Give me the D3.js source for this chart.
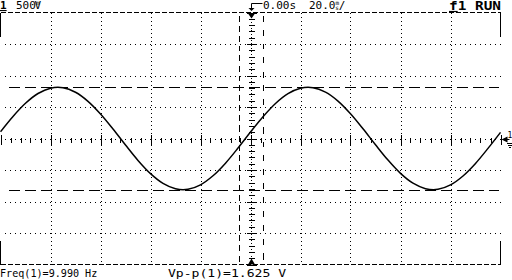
<!DOCTYPE html>
<html><head><meta charset="utf-8">
<script src="https://cdn.jsdelivr.net/npm/d3@7"></script>
<style>
html,body{margin:0;padding:0;background:#fff;}
svg{display:block;}
text{font-family:"DejaVu Sans Mono",monospace;fill:#000;}
</style></head>
<body>
<script>
// ---- data ----
const timeMs = [-100,-95,-90,-85,-80,-75,-70,-65,-60,-55,-50,-45,-40,-35,-30,-25,-20,-15,-10,-5,0,5,10,15,20,25,30,35,40,45,50,55,60,65,70,75,80,85,90,95,100];
const voltsCh1 = [0.107,0.350,0.559,0.714,0.799,0.806,0.734,0.590,0.389,0.150,-0.104,-0.348,-0.558,-0.713,-0.798,-0.806,-0.735,-0.592,-0.391,-0.152,0.102,0.346,0.556,0.712,0.798,0.806,0.736,0.594,0.393,0.155,-0.099,-0.343,-0.554,-0.710,-0.797,-0.807,-0.737,-0.595,-0.396,-0.157,0.097];
const timeGridMs = [-80,-60,-40,-20,20,40,60,80];
const voltGrid = [-1.5,-1,-0.5,0.5,1,1.5];
const voltCursors = [0.8125,-0.8125];
const timeCursors = [-4.8,4.8];
const headerLeft = ["1","500","m","V"];
const headerDelay = "0.00s";
const headerTimebase = ["20.0","m","s","/"];
const headerRight = ["f","1 RUN"];
const footerFreq = "Freq(1)=9.990 Hz";
const footerVpp = "Vp-p(1)=1.625 V";

const W=512,H=280;
const svg=d3.select("body").append("svg").attr("width",W).attr("height",H);
const x=d3.scaleLinear().domain([-100,100]).range([0.5,500.5]);
const y=d3.scaleLinear().domain([-2,2]).range([264.5,12.5]);
const g=svg.append("g").attr("shape-rendering","crispEdges");

// grid dotted
g.selectAll(".vg").data(timeGridMs).join("line")
 .attr("x1",d=>Math.round(x(d))+0.5).attr("x2",d=>Math.round(x(d))+0.5)
 .attr("y1",y(2)).attr("y2",y(-2))
 .attr("stroke","#000").attr("stroke-dasharray","1,3");
g.selectAll(".hg").data(voltGrid).join("line")
 .attr("y1",d=>Math.round(y(d))+0.5).attr("y2",d=>Math.round(y(d))+0.5)
 .attr("x1",x(-100)+4).attr("x2",x(100))
 .attr("stroke","#000").attr("stroke-dasharray","1,4");

// center axes
const cy=Math.round(y(0))+0.5, cx=Math.round(x(0))+0.5;
g.append("line").attr("x1",x(-100)+4).attr("x2",x(100)).attr("y1",cy).attr("y2",cy)
 .attr("stroke","#000").attr("stroke-dasharray","1,4");
g.append("line").attr("y1",y(2)).attr("y2",y(-2)).attr("x1",cx).attr("x2",cx)
 .attr("stroke","#000").attr("stroke-dasharray","1,2");
const tMinor=d3.range(-100,100.01,4);
g.selectAll(".tm").data(tMinor).join("line")
 .attr("x1",d=>Math.round(x(d))+0.5).attr("x2",d=>Math.round(x(d))+0.5)
 .attr("y1",d=>cy-(d%20===0?5:2)).attr("y2",d=>cy+(d%20===0?5:3))
 .attr("stroke","#000");
const vMinor=d3.range(-2,2.001,0.1).map(v=>+v.toFixed(1));
g.selectAll(".vm").data(vMinor).join("line")
 .attr("y1",d=>Math.round(y(d))+0.5).attr("y2",d=>Math.round(y(d))+0.5)
 .attr("x1",d=>cx-(Math.abs(d*2-Math.round(d*2))<1e-6?5:3)).attr("x2",d=>cx+(Math.abs(d*2-Math.round(d*2))<1e-6?5:3))
 .attr("stroke","#000");

// frame: dashed top/bottom, corner brackets on sides
g.append("line").attr("x1",x(-100)).attr("x2",x(100)).attr("y1",y(2)).attr("y2",y(2))
 .attr("stroke","#000").attr("stroke-dasharray","5,2");
g.append("line").attr("x1",x(-100)).attr("x2",x(100)).attr("y1",y(-2)).attr("y2",y(-2))
 .attr("stroke","#000").attr("stroke-dasharray","5,2");
[[-100,2,1],[-100,-2,-1],[100,2,1],[100,-2,-1]].forEach(([t,v,s])=>{
  g.append("line").attr("x1",x(t)).attr("x2",x(t)).attr("y1",y(v)).attr("y2",y(v)+s*24)
   .attr("stroke","#000").attr("stroke-width",1);
});

// cursors
g.selectAll(".hc").data(voltCursors).join("line")
 .attr("y1",d=>Math.round(y(d))+0.5).attr("y2",d=>Math.round(y(d))+0.5)
 .attr("x1",x(-100)+8).attr("x2",x(100)-2)
 .attr("stroke","#000").attr("stroke-dasharray","11,5");
g.selectAll(".vc").data(timeCursors).join("line")
 .attr("x1",d=>Math.round(x(d))+0.5).attr("x2",d=>Math.round(x(d))+0.5)
 .attr("y1",y(2)+3).attr("y2",y(-2))
 .attr("stroke","#000").attr("stroke-dasharray",(d,i)=>i===0?"6,4":"6,8");

// trace
const line=d3.line().x((d,i)=>x(timeMs[i])).y(d=>y(d)).curve(d3.curveCatmullRom);
svg.append("path").datum(voltsCh1).attr("d",line).attr("fill","none")
 .attr("stroke","#000").attr("stroke-width",1.5);

// trigger markers
svg.append("path").attr("d",`M${cx-3.5},${y(2)+1} L${cx+3.5},${y(2)+1} L${cx},${y(2)+6} Z`).attr("fill","#000");
svg.append("path").attr("d",`M${cx-3.5},${y(-2)} L${cx+3.5},${y(-2)} L${cx},${y(-2)-6} Z`).attr("fill","#000");
svg.append("path").attr("d",`M${cx+11},3.5 L${cx},3.5 L${cx},9`).attr("fill","none").attr("stroke","#000");
svg.append("path").attr("d",`M${cx-3},8 L${cx+3},8 L${cx},11 Z`).attr("fill","#000");

// ground marker right
svg.append("path").attr("d",`M${x(100)+1},${cy} L${x(100)+7},${cy-3} L${x(100)+7},${cy+3} Z`).attr("fill","#000");
svg.append("line").attr("x1",x(100)+6).attr("x2",x(100)+9).attr("y1",cy).attr("y2",cy).attr("stroke","#000");
svg.append("text").attr("x",x(100)+7).attr("y",cy-2).attr("font-size",8).text("1");
svg.append("path").attr("d",`M${x(100)+6},${cy+3.5} h6 M${x(100)+7},${cy+5.5} h4 M${x(100)+8},${cy+7.5} h2`)
 .attr("stroke","#000").attr("stroke-width",1).attr("shape-rendering","crispEdges");

// header text
const hl=svg.append("text").attr("x",0).attr("y",9).attr("font-size",11);
hl.append("tspan").attr("font-weight","bold").attr("text-decoration","underline").text(headerLeft[0]);
hl.append("tspan").attr("x",16).text(headerLeft[1]);
hl.append("tspan").attr("font-size",6).attr("dy",-4).text(headerLeft[2]);
hl.append("tspan").attr("dx",-5).attr("dy",4).text(headerLeft[3]);

svg.append("text").attr("x",263).attr("y",9).attr("font-size",11).text(headerDelay);
const tb=svg.append("text").attr("x",309).attr("y",9).attr("font-size",11);
tb.append("tspan").text(headerTimebase[0]);
tb.append("tspan").attr("font-size",6).attr("dy",-4).text(headerTimebase[1]);
tb.append("tspan").attr("font-size",6).attr("dx",-4).attr("dy",5).text(headerTimebase[2]);
tb.append("tspan").attr("dy",-1).text(headerTimebase[3]);
const hr=svg.append("text").attr("transform","translate(449,10) scale(1.2,1)").attr("font-size",12).attr("font-weight","bold");
hr.append("tspan").attr("text-decoration","underline").text(headerRight[0]);
hr.append("tspan").text(headerRight[1]);

// footer
svg.append("text").attr("transform","translate(0,277) scale(0.92,1)").attr("font-size",11).text(footerFreq);
svg.append("text").attr("transform","translate(168,277) scale(1.19,1)").attr("font-size",11).text(footerVpp);
</script>
</body></html>
